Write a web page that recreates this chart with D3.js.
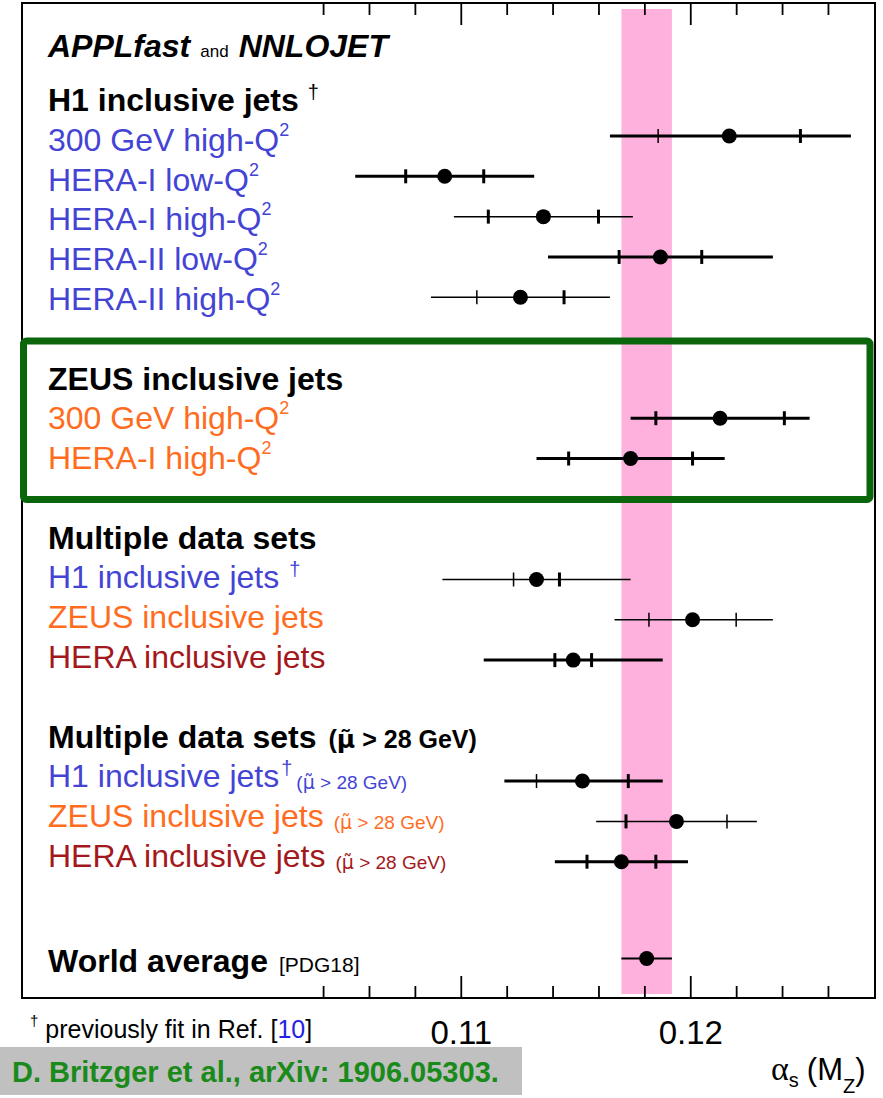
<!DOCTYPE html>
<html>
<head>
<meta charset="utf-8">
<script src="https://cdn.jsdelivr.net/npm/d3@7"></script>
<style>
  body { margin: 0; background: #fff; }
  svg text { font-family: "Liberation Sans", Arial, Helvetica, sans-serif; }
</style>
</head>
<body>
<svg id="chart" width="883" height="1098"></svg>
<script>
// alpha_s(M_Z) fits, values
var labels = ["300 GeV high-Q", "HERA-I low-Q", "HERA-I high-Q", "HERA-II low-Q", "HERA-II high-Q",
  "300 GeV high-Q", "HERA-I high-Q",
  "H1 inclusive jets", "ZEUS inclusive jets", "HERA inclusive jets",
  "H1 inclusive jets", "ZEUS inclusive jets", "HERA inclusive jets"];
var labelSup = ["2", "2", "2", "2", "2", "2", "2", "\u2020", "", "", "\u2020", "", ""];
var labelNote = ["", "", "", "", "", "", "", "", "", "",
  "> 28 GeV", "> 28 GeV", "> 28 GeV"];
var experiment = ["H1", "H1", "H1", "H1", "H1", "ZEUS", "ZEUS", "H1", "ZEUS", "HERA", "H1", "ZEUS", "HERA"];
var rows = [1, 2, 3, 4, 5, 8, 9, 12, 13, 14, 17, 18, 19];

var alphaS  = [0.1217, 0.1093, 0.1136, 0.1187, 0.1126, 0.1213, 0.1174, 0.1133, 0.1201, 0.1149, 0.1153, 0.1194, 0.1170];
var innerLo = [0.1186, 0.1076, 0.1112, 0.1169, 0.1107, 0.1185, 0.1147, 0.1123, 0.1182, 0.1141, 0.1133, 0.1172, 0.1155];
var innerHi = [0.1248, 0.1110, 0.1160, 0.1205, 0.1145, 0.1241, 0.1201, 0.1143, 0.1220, 0.1157, 0.1173, 0.1216, 0.1185];
var totalLo = [0.1165, 0.1054, 0.1097, 0.1138, 0.1087, 0.1174, 0.1133, 0.1092, 0.1167, 0.1110, 0.1119, 0.1159, 0.1141];
var totalHi = [0.1270, 0.1132, 0.1175, 0.1236, 0.1165, 0.1252, 0.1215, 0.1174, 0.1236, 0.1188, 0.1188, 0.1229, 0.1199];

var headers = ["H1 inclusive jets", "ZEUS inclusive jets", "Multiple data sets", "Multiple data sets", "World average"];
var headerNotes = ["\u2020", "", "", "> 28 GeV", "[PDG18]"];
var headerRows = [0, 7, 11, 16, 21.65];

var worldAvg = 0.1181, worldErr = 0.0011, worldRow = 21.4;

var majorTicks = [0.11, 0.12];
var minorTicks = d3.range(52, 64).map(i => +(i * 0.002).toFixed(3)).filter(v => majorTicks.indexOf(v) < 0);

// line weights of the error bars (1 = thick)
var thickLine = [1, 1, 0, 1, 0, 1, 1, 0, 0, 1, 1, 0, 1];
var thickTickLo = [0, 1, 1, 1, 0, 1, 1, 0, 0, 1, 0, 1, 1];
var thickTickHi = [1, 1, 1, 1, 1, 1, 1, 1, 0, 1, 1, 0, 1];

var svg = d3.select("#chart");

var color = d3.scaleOrdinal()
  .domain(["H1", "ZEUS", "HERA"])
  .range(["#4444d4", "#ff6c1e", "#a3181c"]);

var frame = { left: 22, top: 3, right: 875, bottom: 998 };

var x = d3.scaleLinear()
  .domain([0.09088, 0.12805])
  .range([frame.left, frame.right]);

var yPoint = d3.scaleLinear().domain([1, 19]).range([136, 861.7]);
var yText = d3.scaleLinear().domain([0, 19]).range([111, 867]);

// "(mu~ > 28 GeV)" cut note, mu with tilde set in DejaVu so the accent sits right
var addCut = function(t, str, size, dx, dy) {
  t.append("tspan").text("(").attr("dx", dx).attr("dy", dy).attr("font-size", size);
  t.append("tspan").text("\u03bc\u0303").attr("font-size", size).style("font-family", "'DejaVu Sans', sans-serif");
  t.append("tspan").text(" " + str + ")").attr("font-size", size);
};

// PDG band
svg.append("rect")
  .attr("x", x(worldAvg - worldErr))
  .attr("width", x(worldAvg + worldErr) - x(worldAvg - worldErr))
  .attr("y", 9)
  .attr("height", 985)
  .attr("fill", "#ffb1de");

// axes, bottom and mirrored on top
var styleAxis = function(g) {
  g.select(".domain").remove();
  g.selectAll(".tick line").attr("stroke", "#000").attr("stroke-width", 1.8);
};

svg.append("g")
  .attr("transform", `translate(0,${frame.bottom})`)
  .call(d3.axisBottom(x).tickValues(minorTicks).tickSize(-12).tickFormat(""))
  .call(styleAxis);

svg.append("g")
  .attr("transform", `translate(0,${frame.bottom})`)
  .call(d3.axisBottom(x).tickValues(majorTicks).tickSize(-22).tickPadding(23).tickFormat(d3.format(".2f")))
  .call(styleAxis)
  .selectAll("text")
    .attr("fill", "#000")
    .style("font-size", "33px")
    .style("font-family", "'Liberation Sans', Arial, sans-serif");

svg.append("g")
  .attr("transform", `translate(0,${frame.top})`)
  .call(d3.axisTop(x).tickValues(minorTicks).tickSize(-12).tickFormat(""))
  .call(styleAxis);

svg.append("g")
  .attr("transform", `translate(0,${frame.top})`)
  .call(d3.axisTop(x).tickValues(majorTicks).tickSize(-22).tickFormat(""))
  .call(styleAxis);

svg.append("rect")
  .attr("x", frame.left)
  .attr("y", frame.top)
  .attr("width", frame.right - frame.left)
  .attr("height", frame.bottom - frame.top)
  .attr("fill", "none")
  .attr("stroke", "#000")
  .attr("stroke-width", 2);

// title
var title = svg.append("text").attr("x", 48).attr("y", 57);
title.append("tspan").text("APPLfast").attr("font-size", 32).attr("font-weight", "bold").attr("font-style", "italic");
title.append("tspan").text("and").attr("dx", 10).attr("font-size", 17);
title.append("tspan").text("NNLOJET").attr("dx", 10).attr("font-size", 32).attr("font-weight", "bold").attr("font-style", "italic");

// group headers
headers.forEach(function(h, i) {
  var t = svg.append("text")
    .attr("x", 48)
    .attr("y", yText(headerRows[i]))
    .attr("font-size", 32)
    .attr("font-weight", "bold")
    .attr("fill", "#000");
  t.append("tspan").text(h);
  var note = headerNotes[i];
  if (note === "\u2020") {
    t.append("tspan").text(note).attr("dx", 9).attr("dy", -12).attr("font-size", 20).attr("font-weight", "normal");
  } else if (note.charAt(0) === ">") {
    addCut(t, note, 25, 12, 0);
  } else if (note) {
    t.append("tspan").text(note).attr("dx", 11).attr("font-size", 21).attr("font-weight", "normal");
  }
});

// entry labels
labels.forEach(function(l, i) {
  var t = svg.append("text")
    .attr("x", 48)
    .attr("y", yText(rows[i]))
    .attr("font-size", 32)
    .attr("fill", color(experiment[i]));
  t.append("tspan").text(l);
  var raise = 0;
  if (labelSup[i] === "2") {
    raise = 15;
    t.append("tspan").text("2").attr("dx", 0).attr("dy", -raise).attr("font-size", 18);
  } else if (labelSup[i]) {
    raise = 12;
    t.append("tspan").text(labelSup[i]).attr("dx", labelNote[i] ? 2 : 10).attr("dy", -raise).attr("font-size", 20);
  }
  if (labelNote[i]) {
    addCut(t, labelNote[i], 19, labelSup[i] ? 4 : 10, raise + 2);
  }
});

// error bars
var points = svg.append("g").selectAll("g")
  .data(alphaS.map((v, i) => ({ v: v, lo: innerLo[i], hi: innerHi[i], tlo: totalLo[i], thi: totalHi[i], row: rows[i], i: i })))
  .enter()
  .append("g")
    .attr("transform", d => `translate(0,${yPoint(d.row)})`);

points.append("line")
  .attr("x1", d => x(d.tlo))
  .attr("x2", d => x(d.thi))
  .attr("stroke", "#000")
  .attr("stroke-width", d => thickLine[d.i] ? 3 : 1.5);

points.append("line")
  .attr("x1", d => x(d.lo))
  .attr("x2", d => x(d.lo))
  .attr("y1", -7)
  .attr("y2", 7)
  .attr("stroke", "#000")
  .attr("stroke-width", d => thickTickLo[d.i] ? 3 : 1.5);

points.append("line")
  .attr("x1", d => x(d.hi))
  .attr("x2", d => x(d.hi))
  .attr("y1", -7)
  .attr("y2", 7)
  .attr("stroke", "#000")
  .attr("stroke-width", d => thickTickHi[d.i] ? 3 : 1.5);

points.append("circle")
  .attr("cx", d => x(d.v))
  .attr("r", 7.5)
  .attr("fill", "#000");

// world average
var wa = svg.append("g").attr("transform", `translate(0,${yPoint(worldRow)})`);
wa.append("line")
  .attr("x1", x(worldAvg - worldErr))
  .attr("x2", x(worldAvg + worldErr))
  .attr("stroke", "#000")
  .attr("stroke-width", 2);
wa.append("circle")
  .attr("cx", x(worldAvg))
  .attr("r", 7.5)
  .attr("fill", "#000");

// ZEUS highlight box
svg.append("rect")
  .attr("x", 23.5)
  .attr("y", 341)
  .attr("width", 846.5)
  .attr("height", 158.5)
  .attr("rx", 3)
  .attr("fill", "none")
  .attr("stroke", "#0b650b")
  .attr("stroke-width", 7);

// footnote
var foot = svg.append("text").attr("x", 30).attr("y", 1038).attr("font-size", 25).attr("fill", "#000");
foot.append("tspan").text("\u2020").attr("font-size", 15).attr("dy", -12);
foot.append("tspan").text("previously fit in Ref. [").attr("dx", 7).attr("dy", 12);
foot.append("tspan").text("10").attr("fill", "#2222e6");
foot.append("tspan").text("]");

// axis title
var at = svg.append("text").attr("x", 771).attr("y", 1080).attr("font-size", 31).attr("fill", "#000");
at.append("tspan").text("\u03b1").attr("font-family", "'Liberation Serif', serif").attr("font-size", 34);
at.append("tspan").text("s").attr("dy", 7).attr("font-size", 20);
at.append("tspan").text("(M").attr("dx", 8).attr("dy", -7);
at.append("tspan").text("Z").attr("dy", 13).attr("font-size", 20);
at.append("tspan").text(")").attr("dy", -13);

// reference banner
svg.append("rect")
  .attr("x", 0)
  .attr("y", 1047)
  .attr("width", 522)
  .attr("height", 48)
  .attr("fill", "#c0c0c0");
svg.append("text")
  .attr("x", 12)
  .attr("y", 1082)
  .attr("font-size", 29)
  .attr("font-weight", "bold")
  .attr("fill", "#1a8a1a")
  .text("D. Britzger et al., arXiv: 1906.05303.");
</script>
</body>
</html>
